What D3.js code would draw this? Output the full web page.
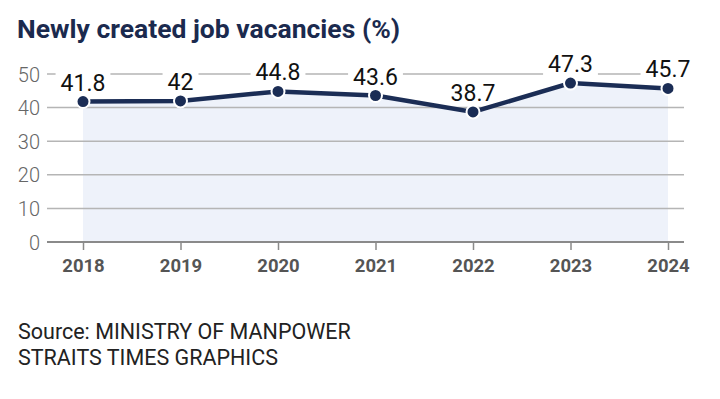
<!DOCTYPE html>
<html><head><meta charset="utf-8">
<script src="https://cdn.jsdelivr.net/npm/d3@7"></script>
<style>body{margin:0;background:#fff}svg{display:block}</style>
</head><body>
<svg id="c" width="720" height="399"></svg>
<script>
const years = ["2018","2019","2020","2021","2022","2023","2024"];
const values = [41.8, 42, 44.8, 43.6, 38.7, 47.3, 45.7];
const yTicks = [0, 10, 20, 30, 40, 50];
const title = "Newly created job vacancies (%)";
const sourceLines = ["Source: MINISTRY OF MANPOWER", "STRAITS TIMES GRAPHICS"];

const svg = d3.select("#c");
const x = d3.scalePoint().domain(years).range([83, 668]);
const y = d3.scaleLinear().domain([0, 50]).range([242, 74]);
const gridL = 47, gridR = 684;
const navy = "#1b2d55";

svg.append("text").attr("x", 17).attr("y", 38).text(title)
  .attr("font-family", "Roboto, sans-serif").attr("font-weight", 700)
  .attr("font-size", 26.5).attr("fill", "#1b2a4e");

// area
const data = years.map((d, i) => ({year: d, v: values[i]}));
svg.append("path").datum(data)
  .attr("d", d3.area().x(d => x(d.year)).y0(y(0)).y1(d => y(d.v)))
  .attr("fill", "#eef2fa");

// grid
svg.append("g").selectAll("line").data(yTicks.filter(t => t > 0)).join("line")
  .attr("x1", gridL).attr("x2", gridR).attr("y1", d => y(d)).attr("y2", d => y(d))
  .attr("stroke", "#b5b5b5").attr("stroke-width", 1.5);

// y labels
svg.append("g").selectAll("text").data(yTicks).join("text")
  .attr("x", 40).attr("y", d => y(d) + 7.5).attr("text-anchor", "end")
  .attr("font-family", "Roboto, sans-serif").attr("font-weight", 300)
  .attr("font-size", 20).attr("fill", "#666").text(d => d);

// x axis
const xAxis = d3.axisBottom(x).tickSize(8).tickPadding(9);
const gx = svg.append("g").attr("transform", `translate(0,${y(0)})`).call(xAxis);
gx.select(".domain").remove();
gx.selectAll(".tick line").attr("stroke", "#8a8a8a").attr("stroke-width", 1.5);
gx.selectAll(".tick text").attr("font-family", "Roboto, sans-serif").attr("font-weight", 700)
  .attr("font-size", 18.5).attr("fill", "#555");
svg.append("line").attr("x1", gridL).attr("x2", gridR).attr("y1", y(0)).attr("y2", y(0))
  .attr("stroke", "#8a8a8a").attr("stroke-width", 2);

// labels with white bg
const lg = svg.append("g");
data.forEach(d => {
  const t = lg.append("text").attr("x", x(d.year)).attr("y", y(d.v) - 11)
    .attr("text-anchor", "middle").attr("font-family", "Roboto, sans-serif")
    .attr("font-weight", 400).attr("font-size", 23).attr("fill", "#111").text(d.v);
  const b = t.node().getBBox();
  lg.insert("rect", "text").attr("x", b.x - 5).attr("y", b.y).attr("width", b.width + 10)
    .attr("height", b.height - 2).attr("fill", "#fff");
});

// line
svg.append("path").datum(data)
  .attr("d", d3.line().x(d => x(d.year)).y(d => y(d.v)))
  .attr("fill", "none").attr("stroke", navy).attr("stroke-width", 4.5);
svg.append("g").selectAll("circle").data(data).join("circle")
  .attr("cx", d => x(d.year)).attr("cy", d => y(d.v)).attr("r", 6.5)
  .attr("fill", navy).attr("stroke", "#fff").attr("stroke-width", 2);

svg.append("g").selectAll("text").data(sourceLines).join("text")
  .attr("x", 18).attr("y", (d, i) => 339 + i * 26).text(d => d)
  .attr("font-family", "Roboto, sans-serif").attr("font-weight", 400)
  .attr("font-size", 21.5).attr("fill", "#222");
</script>
</body></html>
